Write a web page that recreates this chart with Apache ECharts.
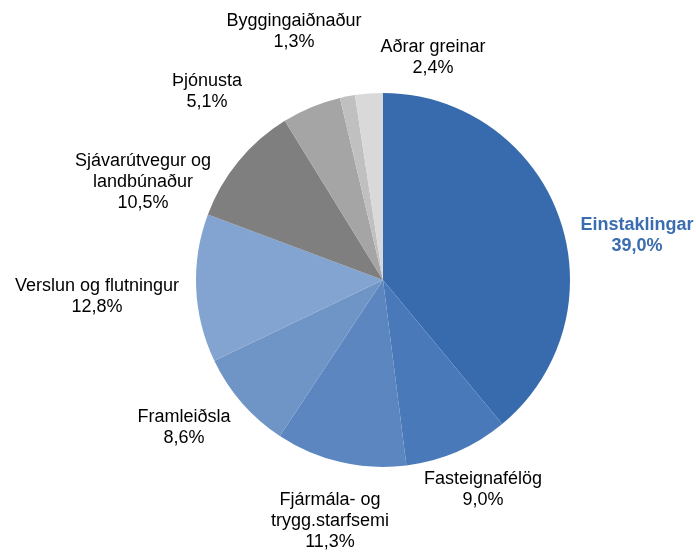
<!DOCTYPE html>
<html><head><meta charset="utf-8">
<script src="https://cdn.jsdelivr.net/npm/echarts@6/dist/echarts.min.js"></script>
<style>html,body{margin:0;padding:0;background:#fff}#c{width:696px;height:553px}</style>
</head><body><div id="c"></div>
<script>
const categories = ["Einstaklingar","Fasteignafélög","Fjármála- og\ntrygg.starfsemi","Framleiðsla","Verslun og flutningur","Sjávarútvegur og\nlandbúnaður","Þjónusta","Byggingaiðnaður","Aðrar greinar"];
const values = [39.0, 9.0, 11.3, 8.6, 12.8, 10.5, 5.1, 1.3, 2.4];
const colors = ["#376bad","#4a79b9","#5b86c0","#6f95c6","#83a4d0","#7f7f7f","#a5a5a5","#c0c0c0","#d9d9d9"];
const labelPos = [[637,236],[483,490],[330,521],[184,428],[97,297],[143,182],[207,92],[294,32],[433,58]];

const chart = echarts.init(document.getElementById('c'));
chart.setOption({
  animation:false,
  series:[{
    type:'pie',
    center:[383,280],
    radius:187,
    startAngle:90,
    clockwise:true,
    data:categories.map((n,i)=>({name:n,value:values[i],itemStyle:{color:colors[i]},
      label: i===0 ? {color:'#3a6db0',fontWeight:'bold'} : {}})),
    label:{show:true,position:'outside',overflow:'none',bleedMargin:0,
      formatter:p=>p.name+'\n'+p.value.toFixed(1).replace('.',',')+'%',
      fontFamily:'Liberation Sans, Arial, sans-serif',fontSize:18,lineHeight:21,color:'#000',align:'center'},
    labelLine:{show:false},
    labelLayout:function(p){ const q=labelPos[p.dataIndex]; return {x:q[0],y:q[1],align:'center',verticalAlign:'middle'}; },
    itemStyle:{borderWidth:0}
  }]
});
</script></body></html>
